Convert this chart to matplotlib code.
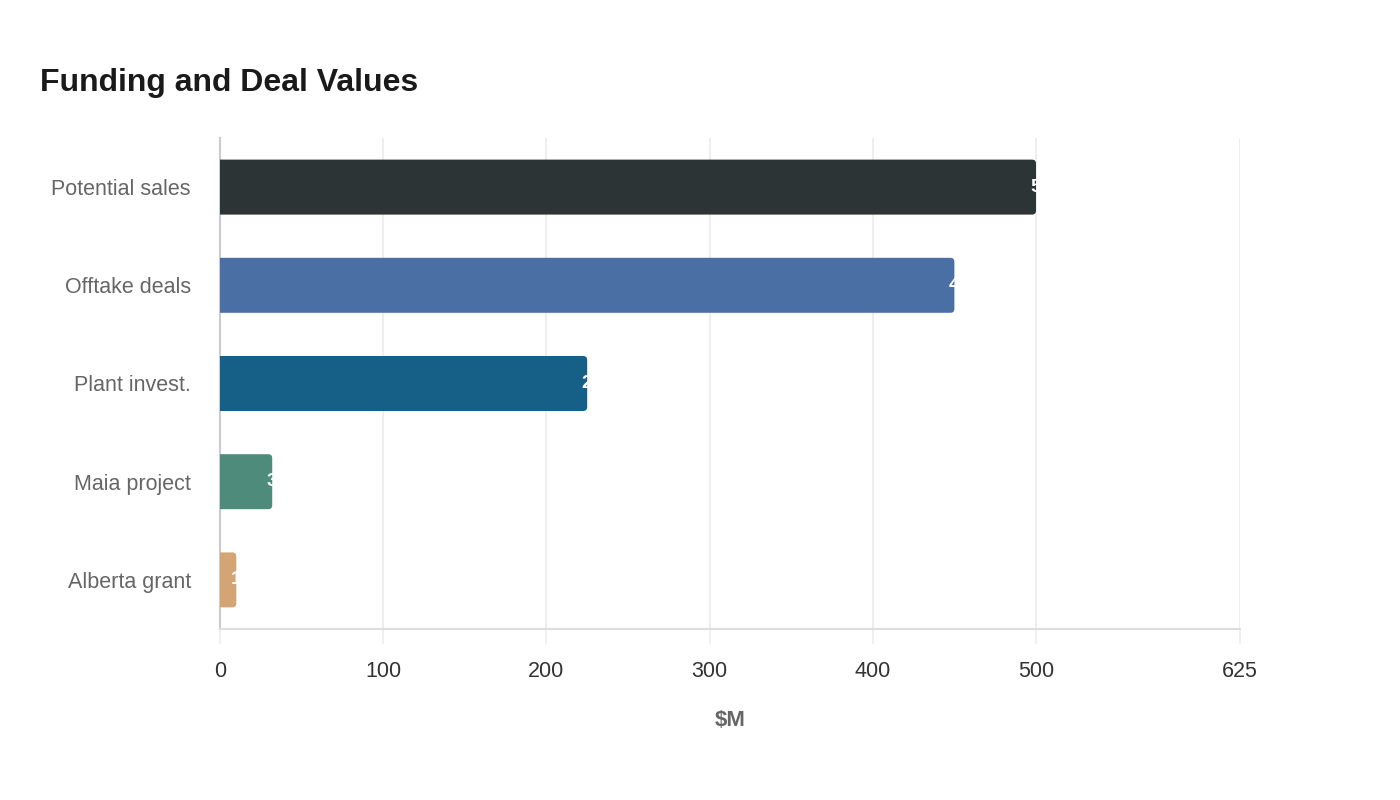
import matplotlib
matplotlib.use("Agg")
import matplotlib.pyplot as plt
from matplotlib.patches import FancyBboxPatch

categories = ["Potential sales", "Offtake deals", "Plant invest.", "Maia project", "Alberta grant"]
values = [500, 450, 225, 32, 10]
colors = ["#2d3436", "#4a6fa5", "#166088", "#4f8b7a", "#d4a574"]
xticks = [0, 100, 200, 300, 400, 500, 625]

plt.rcParams["font.family"] = ["Liberation Sans", "DejaVu Sans"]

fig = plt.figure(figsize=(14, 8), dpi=100)
# axes box in pixels: left 220, right 1240, top 138, bottom 629
ax = fig.add_axes([220 / 1400, 1 - 629 / 800, 1020 / 1400, 491 / 800])

xmax = 625
ax.set_xlim(0, xmax)
ax.set_ylim(len(categories) - 0.5, -0.5)

px_x = 1020 / xmax          # pixels per x unit
px_y = 491 / len(categories)  # pixels per y unit
r = 4 / px_x
aspect = (4 / px_y) / r
h = 0.56

for i, (v, c) in enumerate(zip(values, colors)):
    patch = FancyBboxPatch((-r * 3, i - h / 2), v + r * 3, h,
                           boxstyle="round,pad=0,rounding_size=%f" % r,
                           mutation_aspect=aspect, fc=c, ec="none", zorder=3)
    ax.add_patch(patch)
    t = ax.annotate("%d" % v, (v, i), xytext=(-4, 0), textcoords="offset points",
                    ha="left", va="center", color="white", fontsize=14,
                    fontweight="bold", zorder=4)
    t.set_clip_path(patch)

ax.set_yticks(range(len(categories)))
ax.set_yticklabels(categories, fontsize=15.5, color="#666666")
ax.tick_params(axis="y", length=0, pad=21)

ax.set_xticks(xticks)
ax.set_xticklabels([str(x) for x in xticks], fontsize=15.5, color="#333333")
ax.tick_params(axis="x", length=11, color="#eeeeee", width=1.2, pad=12)
ax.grid(axis="x", color="#ebebeb", linewidth=1.2, zorder=0)
ax.set_axisbelow(True)

for s in ["top", "right"]:
    ax.spines[s].set_visible(False)
ax.spines["left"].set_color("#cccccc")
ax.spines["left"].set_linewidth(1.5)
ax.spines["bottom"].set_color("#dddddd")
ax.spines["bottom"].set_linewidth(1.5)

ax.set_xlabel("$M", fontsize=16, fontweight="bold", color="#666666", labelpad=20)

fig.text(40 / 1400, 1 - 83 / 800, "Funding and Deal Values", fontsize=23,
         fontweight="bold", color="#1a1a1a", ha="left", va="center")

fig.savefig("out.png", dpi=100, facecolor="white")
